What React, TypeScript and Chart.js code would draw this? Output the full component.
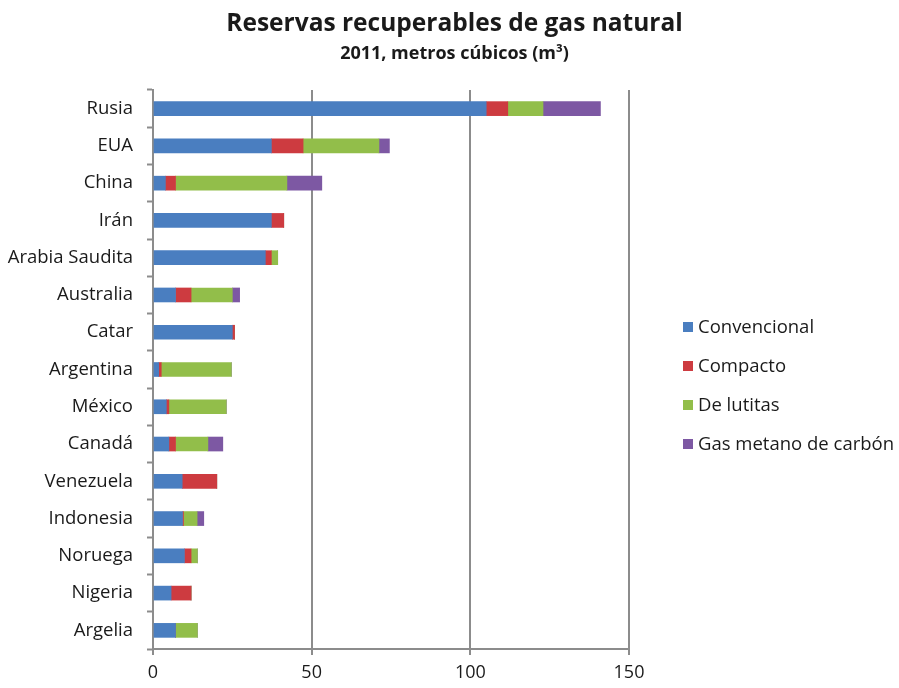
import { useEffect, useRef } from "react";
import { Chart, registerables } from "chart.js";

Chart.register(...registerables);

// Recoverable natural gas reserves by country, 2011 (cubic metres)
const countries = [
  "Rusia",
  "EUA",
  "China",
  "Irán",
  "Arabia Saudita",
  "Australia",
  "Catar",
  "Argentina",
  "México",
  "Canadá",
  "Venezuela",
  "Indonesia",
  "Noruega",
  "Nigeria",
  "Argelia",
];
const convencional = [105, 37.3, 3.9, 37.3, 35.4, 7.1, 25, 1.8, 4.2, 5, 9.2, 9.3, 9.9, 5.7, 7.1];
const compacto = [6.8, 10, 3.2, 3.9, 1.9, 4.9, 0.7, 0.8, 0.8, 2.1, 10.9, 0.3, 2.1, 6.3, 0];
const deLutitas = [11.1, 23.9, 35.1, 0, 2, 13, 0, 22.1, 18.1, 10.2, 0, 4.3, 2, 0, 6.9];
const gasMetano = [18.1, 3.3, 11, 0, 0, 2.3, 0, 0, 0, 4.7, 0, 2.1, 0, 0, 0];
const xTicks = [0, 50, 100, 150];

const seriesLabels = ["Convencional", "Compacto", "De lutitas", "Gas metano de carbón"];
const seriesColors = ["#4A7EC0", "#CD3B40", "#92BE4A", "#7D58A3"];

const titleText = "Reservas recuperables de gas natural";
const subtitleText = "2011, metros cúbicos (m³)";

const FONT = "'Open Sans', Lato, sans-serif";
const TEXT = "#1a1a1a";
const AXIS = "#8c8c8c";

// Title and subtitle centred across the whole canvas
const headerText = {
  id: "headerText",
  afterDraw(chart: any, _args: any, opts: any) {
    const ctx = chart.ctx;
    const cx = chart.width / 2 + opts.shift;
    ctx.save();
    ctx.fillStyle = opts.color;
    ctx.textAlign = "center";
    ctx.textBaseline = "alphabetic";
    ctx.font = opts.titleFont;
    ctx.fillText(opts.title, cx, opts.titleBaseline);
    ctx.font = opts.subtitleFont;
    ctx.fillText(opts.subtitle, cx, opts.subtitleBaseline);
    ctx.restore();
  },
};

// Legend drawn as a vertical list to the right of the plot area
const sideLegend = {
  id: "sideLegend",
  afterDraw(chart: any, _args: any, opts: any) {
    const ctx = chart.ctx;
    ctx.save();
    ctx.font = opts.font;
    ctx.textBaseline = "middle";
    ctx.textAlign = "left";
    chart.data.datasets.forEach((ds: any, i: number) => {
      const y = opts.top + i * opts.spacing;
      ctx.fillStyle = ds.backgroundColor;
      ctx.fillRect(opts.left, y - opts.box / 2, opts.box, opts.box);
      ctx.fillStyle = opts.color;
      ctx.fillText(ds.label, opts.left + opts.box + opts.gap, y + 1);
    });
    ctx.restore();
  },
};

export default function App() {
  const canvasRef = useRef<HTMLCanvasElement | null>(null);

  useEffect(() => {
    if (!canvasRef.current) return;
    const values = [convencional, compacto, deLutitas, gasMetano];
    const chart = new Chart(canvasRef.current, {
      type: "bar",
      data: {
        labels: countries,
        datasets: values.map((data, i) => ({
          label: seriesLabels[i],
          data,
          backgroundColor: seriesColors[i],
          borderWidth: 0,
          barThickness: 14,
        })),
      },
      plugins: [headerText, sideLegend],
      options: {
        indexAxis: "y",
        animation: false,
        responsive: false,
        layout: { padding: { left: 0, right: 270, top: 90, bottom: 0 } },
        plugins: {
          legend: { display: false },
          tooltip: { enabled: false },
          title: { display: false },
          headerText: {
            title: titleText,
            subtitle: subtitleText,
            titleFont: `bold 24.5px ${FONT}`,
            subtitleFont: `bold 18px ${FONT}`,
            titleBaseline: 31,
            subtitleBaseline: 59,
            shift: 5,
            color: TEXT,
          },
          sideLegend: {
            left: 683,
            top: 327,
            spacing: 39,
            box: 10,
            gap: 5,
            font: `18.5px ${FONT}`,
            color: TEXT,
          },
        } as any,
        scales: {
          x: {
            type: "linear",
            stacked: true,
            min: 0,
            max: 150,
            afterBuildTicks: (scale: any) => {
              scale.ticks = xTicks.map((v) => ({ value: v }));
            },
            afterFit: (scale: any) => {
              scale.height = 39;
            },
            grid: {
              color: AXIS,
              lineWidth: 2,
              drawTicks: true,
              tickLength: 6,
              tickColor: AXIS,
            },
            border: { display: true, color: AXIS, width: 2 },
            ticks: {
              color: TEXT,
              font: { family: FONT, size: 18 },
              padding: 7,
            },
          },
          y: {
            stacked: true,
            afterFit: (scale: any) => {
              scale.width = 153;
            },
            grid: {
              display: true,
              offset: true,
              drawOnChartArea: false,
              drawTicks: true,
              tickLength: 6,
              tickColor: AXIS,
              tickWidth: 2,
            },
            border: { display: true, color: AXIS, width: 2 },
            ticks: {
              color: TEXT,
              font: { family: FONT, size: 18.5 },
              padding: 14,
            },
          },
        },
      },
    });
    return () => chart.destroy();
  }, []);

  return (
    <div style={{ position: "fixed", left: 0, top: 0, width: 899, height: 688, background: "#fff" }}>
      <canvas ref={canvasRef} width={899} height={688} style={{ width: 899, height: 688 }} />
    </div>
  );
}
